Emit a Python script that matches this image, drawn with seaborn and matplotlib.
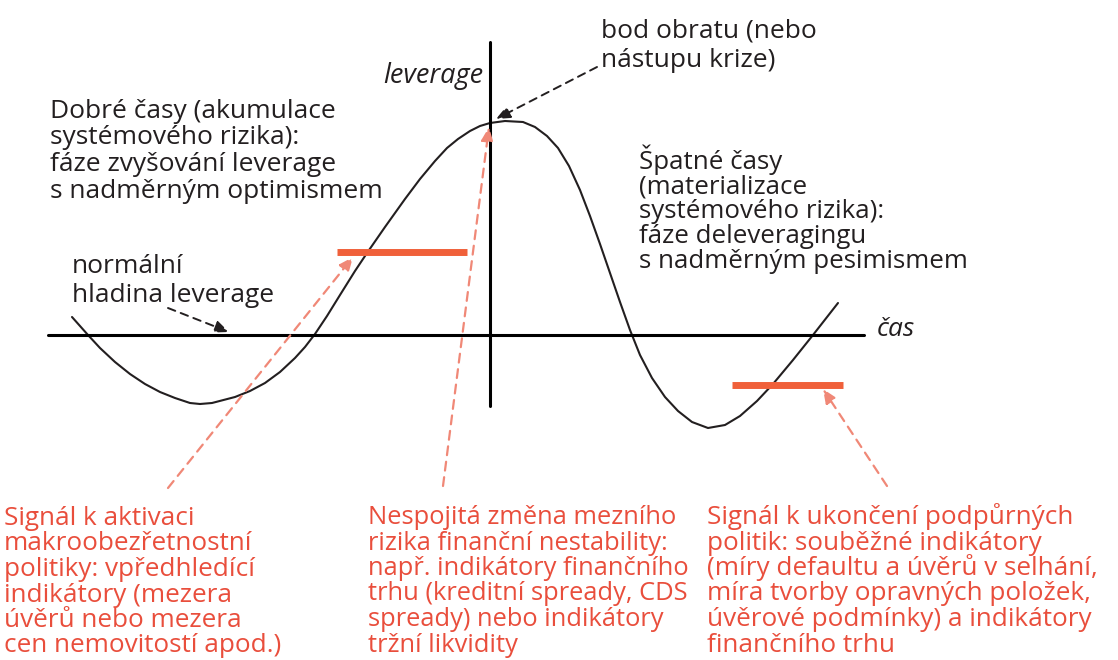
#!/usr/bin/env python3

import pandas as pd
import seaborn as sns
import matplotlib.pyplot as plt

# leverage cycle (pixel units, y grows downward)
CURVE_X = [72, 88, 100, 115, 130, 145, 160, 175, 190, 200, 212, 235, 250, 265, 280, 295, 305, 315,
           327, 340, 355, 367, 385, 405, 420, 435, 447, 458, 470, 480, 490, 505, 523, 535, 547, 558,
           569, 580, 590, 600, 610, 620, 630, 640, 652, 665, 678, 692, 708, 725, 740, 757, 773, 793,
           813, 838]
CURVE_Y = [317, 335, 348, 362, 374, 384, 392, 398, 403, 404, 403, 397, 391, 383, 372, 358, 347, 334,
           316, 295, 271, 253, 227, 199, 179, 161, 148, 139, 131, 126, 123, 121, 122, 127, 136, 148,
           166, 190, 216, 244, 273, 302, 330, 355, 378, 397, 411, 422, 428, 425, 416, 401, 384, 360,
           335, 303]

TIME_AXIS = {"x": [48, 864], "y": [335, 335]}
LEVERAGE_AXIS = {"x": [490, 490], "y": [42, 406]}

# policy signal bars
BAR_START = {"x": [337, 467], "y": [252, 252]}
BAR_END = {"x": [732, 843], "y": [385, 385]}

# (start, tip) of the dashed pointers
BLACK_ARROWS = [((168, 308), (229, 332)), ((597, 67), (496, 119))]
RED_ARROWS = [((168, 488), (353, 257)), ((443, 486), (489, 127)), ((887, 486), (823, 389))]

# lines, left edge, first baseline, baseline step, font size
BLACK_TEXTS = [
    (["Dobré časy (akumulace", "systémového rizika):", "fáze zvyšování leverage",
      "s nadměrným optimismem"], 50, 118, 26.5, 19),
    (["normální", "hladina leverage"], 72, 273, 29, 19),
    (["Špatné časy", "(materializace", "systémového rizika):", "fáze deleveragingu",
      "s nadměrným pesimismem"], 639, 169, 24.75, 18.6),
    (["bod obratu (nebo", "nástupu krize)"], 601, 37, 30, 19),
]
RED_TEXTS = [
    (["Signál k aktivaci", "makroobezřetnostní", "politiky: vpředhledící", "indikátory (mezera",
      "úvěrů nebo mezera", "cen nemovitostí apod.)"], 4, 525, 25.5, 18.8),
    (["Nespojitá změna mezního", "rizika finanční nestability:", "např. indikátory finančního",
      "trhu (kreditní spready, CDS", "spready) nebo indikátory", "tržní likvidity"], 368, 524, 25.5, 18.4),
    (["Signál k ukončení podpůrných", "politik: souběžné indikátory", "(míry defaultu a úvěrů v selhání,",
      "míra tvorby opravných položek,", "úvěrové podmínky) a indikátory", "finančního trhu"],
     707, 524, 25.5, 18.8),
]

INK = "#231f20"
RED_TEXT = "#e94e3c"
RED_DASH = "#f08877"
ORANGE = "#f0603a"


def draw_block(ax, lines, x, y0, step, size, color):
    for i, line in enumerate(lines):
        ax.text(x, y0 + i * step, line, color=color, fontsize=size, va="baseline", ha="left")


def main():
    sns.set_theme(style="white")
    plt.rcParams["font.family"] = ["Open Sans", "DejaVu Sans"]

    fig = plt.figure(figsize=(11.18, 6.6), dpi=100)
    ax = fig.add_axes([0, 0, 1, 1])

    curve = pd.DataFrame({"x": CURVE_X, "y": CURVE_Y})
    sns.lineplot(data=curve, x="x", y="y", sort=False, estimator=None, color=INK, lw=1.5, ax=ax)

    for axis in (TIME_AXIS, LEVERAGE_AXIS):
        sns.lineplot(x=axis["x"], y=axis["y"], sort=False, estimator=None, color="black", lw=2.2, ax=ax)
    for bar in (BAR_START, BAR_END):
        sns.lineplot(x=bar["x"], y=bar["y"], sort=False, estimator=None, color=ORANGE, lw=5,
                     solid_capstyle="butt", ax=ax)

    for start, tip in BLACK_ARROWS:
        ax.annotate("", xy=tip, xytext=start,
                    arrowprops=dict(arrowstyle="-|>,head_length=0.7,head_width=0.3", color=INK,
                                    lw=1.4, linestyle=(0, (4, 3)), shrinkA=0, shrinkB=0))
    for start, tip in RED_ARROWS:
        ax.annotate("", xy=tip, xytext=start,
                    arrowprops=dict(arrowstyle="-|>,head_length=0.7,head_width=0.3", color=RED_DASH,
                                    lw=1.6, linestyle=(0, (4, 3)), shrinkA=0, shrinkB=0))

    for lines, x, y0, step, size in BLACK_TEXTS:
        draw_block(ax, lines, x, y0, step, size, INK)
    for lines, x, y0, step, size in RED_TEXTS:
        draw_block(ax, lines, x, y0, step, size, RED_TEXT)

    ax.text(383, 83, "leverage", color=INK, fontsize=19.5, style="italic", va="baseline", ha="left")
    ax.text(877, 336, "čas", color=INK, fontsize=19, style="italic", va="baseline", ha="left")

    ax.set_xlim(0, 1118)
    ax.set_ylim(660, 0)
    ax.set_axis_off()

    fig.savefig("out.png", dpi=100)


if __name__ == "__main__":
    main()
